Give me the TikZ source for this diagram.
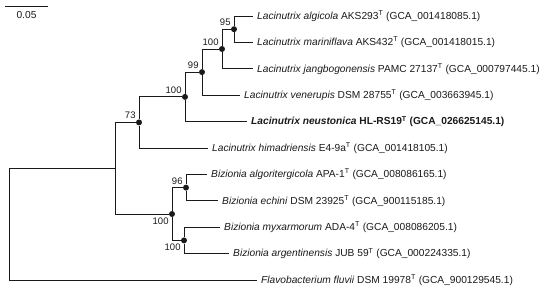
\documentclass[tikz,border=0pt]{standalone}
\usepackage{fontspec}
\setmainfont{Liberation Sans}
\usetikzlibrary{positioning}
\definecolor{TreeInk}{HTML}{1A1A1A}
\newcommand{\typestrain}{\textsuperscript{T}}

\begin{document}
\begin{tikzpicture}[
  x=1pt,y=-1pt,
  branch/.style={draw=TreeInk,line width=0.9pt},
  dot/.style={circle,fill=TreeInk,inner sep=0pt,minimum size=6pt},
  leaf/.style={anchor=west,inner xsep=4pt,inner ysep=1pt,text=TreeInk,font=\fontsize{10.2}{12}\selectfont},
  boot/.style={inner sep=1pt,text=TreeInk,font=\fontsize{9.5}{11}\selectfont}
]
\useasboundingbox (0,0) rectangle (550,293);
% scale bar
\coordinate (sbleft) at (5,6);
\coordinate (sbright) at (48,6);
\draw[branch] (sbleft) -- (sbright) node[midway,below=4pt,boot,font=\fontsize{10.2}{12}\selectfont] (sblabel) {0.05};
% inner nodes
\coordinate (root) at (9,224.1);
\coordinate (inner) at (115,168.2);
\node[dot] (n73) at (139,122.4) {};
\node[dot] (n100b) at (185,96.9) {};
\node[dot] (n99) at (202,72.1) {};
\node[dot] (n100a) at (222,49) {};
\node[dot] (n95) at (234,29.2) {};
\node[dot] (n100c) at (172,214) {};
\node[dot] (n96) at (186,187.6) {};
\node[dot] (n100d) at (184,240.4) {};
% bootstrap values
\node[boot,above left=0pt of n73.north west] (b73) {73};
\node[boot,above left=0pt of n100b.north west] (b100b) {100};
\node[boot,above left=0pt of n99.north west] (b99) {99};
\node[boot,above left=0pt of n100a.north west] (b100a) {100};
\node[boot,above left=0pt of n95.north west] (b95) {95};
\node[boot,above left=0pt of n96.north west] (b96) {96};
\node[boot,below left=0pt of n100c.south west] (b100c) {100};
\node[boot,below left=0pt of n100d.south west] (b100d) {100};
% leaves
\node[leaf] (algicola) at (253,16) {\textit{Lacinutrix algicola} AKS293\typestrain{} (GCA\_001418085.1)};
\node[leaf] (mariniflava) at (253,42.4) {\textit{Lacinutrix mariniflava} AKS432\typestrain{} (GCA\_001418015.1)};
\node[leaf] (jangbo) at (253,68.8) {\textit{Lacinutrix jangbogonensis} PAMC 27137\typestrain{} (GCA\_000797445.1)};
\node[leaf] (venerupis) at (240,95.2) {\textit{Lacinutrix venerupis} DSM 28755\typestrain{} (GCA\_003663945.1)};
\node[leaf] (neustonica) at (247,121.6) {\textbf{\textit{Lacinutrix neustonica} HL-RS19\typestrain{} (GCA\_026625145.1)}};
\node[leaf] (himadri) at (208,148) {\textit{Lacinutrix himadriensis} E4-9a\typestrain{} (GCA\_001418105.1)};
\node[leaf] (algoriter) at (207,174.4) {\textit{Bizionia algoritergicola} APA-1\typestrain{} (GCA\_008086165.1)};
\node[leaf] (echini) at (218,200.8) {\textit{Bizionia echini} DSM 23925\typestrain{} (GCA\_900115185.1)};
\node[leaf] (myxarm) at (220,227.2) {\textit{Bizionia myxarmorum} ADA-4\typestrain{} (GCA\_008086205.1)};
\node[leaf] (argent) at (229,253.6) {\textit{Bizionia argentinensis} JUB 59\typestrain{} (GCA\_000224335.1)};
\node[leaf] (fluvii) at (257,280) {\textit{Flavobacterium fluvii} DSM 19978\typestrain{} (GCA\_900129545.1)};
% branches
\draw[branch] (root) |- (inner);
\draw[branch] (root) |- (fluvii);
\draw[branch] (inner) |- (n73);
\draw[branch] (inner) |- (n100c);
\draw[branch] (n73) |- (n100b);
\draw[branch] (n73) |- (himadri);
\draw[branch] (n100b) |- (n99);
\draw[branch] (n100b) |- (neustonica);
\draw[branch] (n99) |- (n100a);
\draw[branch] (n99) |- (venerupis);
\draw[branch] (n100a) |- (n95);
\draw[branch] (n100a) |- (jangbo);
\draw[branch] (n95) |- (algicola);
\draw[branch] (n95) |- (mariniflava);
\draw[branch] (n100c) |- (n96);
\draw[branch] (n100c) |- (n100d);
\draw[branch] (n96) |- (algoriter);
\draw[branch] (n96) |- (echini);
\draw[branch] (n100d) |- (myxarm);
\draw[branch] (n100d) |- (argent);
\end{tikzpicture}
\end{document}
